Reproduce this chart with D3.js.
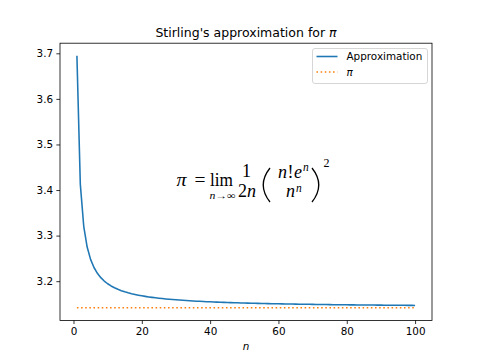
<!DOCTYPE html>
<html><head><meta charset="utf-8">
<script src="https://cdn.jsdelivr.net/npm/d3@7"></script>
<style>body{margin:0;background:#fff;} svg{display:block;}</style>
</head><body>
<script>
const nValues = d3.range(1, 101);
const approxValues = [
3.69453,3.41238,3.32040,3.27497,3.24793,3.23000,3.21724,3.20769,3.20028,3.19437,
3.18955,3.18553,3.18213,3.17922,3.17669,3.17449,3.17254,3.17082,3.16927,3.16788,
3.16663,3.16548,3.16444,3.16349,3.16261,3.16180,3.16105,3.16035,3.15970,3.15909,
3.15853,3.15800,3.15750,3.15703,3.15659,3.15617,3.15578,3.15540,3.15505,3.15471,
3.15439,3.15408,3.15379,3.15352,3.15325,3.15300,3.15275,3.15252,3.15230,3.15208,
3.15188,3.15168,3.15149,3.15130,3.15113,3.15096,3.15079,3.15063,3.15048,3.15033,
3.15019,3.15005,3.14991,3.14978,3.14966,3.14954,3.14942,3.14930,3.14919,3.14908,
3.14898,3.14887,3.14877,3.14868,3.14858,3.14849,3.14840,3.14831,3.14823,3.14815,
3.14806,3.14798,3.14791,3.14783,3.14776,3.14769,3.14762,3.14755,3.14748,3.14742,
3.14735,3.14729,3.14723,3.14717,3.14711,3.14705,3.14700,3.14694,3.14689,3.14683];
const piValue = 3.141593;
const piValues = nValues.map(() => piValue);
const xTicks = [0, 20, 40, 60, 80, 100];
const yTicks = [3.2, 3.3, 3.4, 3.5, 3.6, 3.7];
const seriesNames = ["Approximation", "π"];

const W = 480, H = 360;
const m = {l: 60, r: 432, t: 43.2, b: 320.4};
const svg = d3.select("body").append("svg").attr("width", W).attr("height", H);
const FONT = "DejaVu Sans, sans-serif";

const xMin = 1, xMax = 100, xPad = (xMax - xMin) * 0.05;
const yMin = d3.min(piValues.concat(approxValues)), yMax = d3.max(approxValues);
const yPad = (yMax - yMin) * 0.05;
const x = d3.scaleLinear().domain([xMin - xPad, xMax + xPad]).range([m.l, m.r]);
const y = d3.scaleLinear().domain([yMin - yPad, yMax + yPad]).range([m.b, m.t]);

// axes
const xAxis = svg.append("g").attr("transform", `translate(0,${m.b})`)
  .call(d3.axisBottom(x).tickValues(xTicks).tickSize(3.65).tickPadding(3.3).tickFormat(d3.format("d")));
const yAxis = svg.append("g").attr("transform", `translate(${m.l},0)`)
  .call(d3.axisLeft(y).tickValues(yTicks).tickSize(3.65).tickPadding(3.3).tickFormat(d3.format(".1f")));
[xAxis, yAxis].forEach(a => {
  a.select(".domain").remove();
  a.selectAll("line").attr("stroke", "#000").attr("stroke-width", 0.8);
  a.selectAll("text").attr("font-family", FONT).attr("font-size", 10.4).attr("fill", "#000");
});

// lines
const line = d3.line().x((d, i) => x(nValues[i])).y(d => y(d));
svg.append("path").datum(piValues).attr("d", line).attr("fill", "none")
  .attr("stroke", "#ff7f0e").attr("stroke-width", 1.56).attr("stroke-dasharray", "1.56,2.58");
svg.append("path").datum(approxValues).attr("d", line).attr("fill", "none")
  .attr("stroke", "#1f77b4").attr("stroke-width", 1.56).attr("stroke-linejoin", "round");

// frame
svg.append("rect").attr("x", m.l).attr("y", m.t).attr("width", m.r - m.l).attr("height", m.b - m.t)
  .attr("fill", "none").attr("stroke", "#000").attr("stroke-width", 0.8);

// title
const title = svg.append("text").attr("x", (m.l + m.r) / 2).attr("y", 37).attr("text-anchor", "middle")
  .attr("font-family", FONT).attr("font-size", 12.5).attr("fill", "#000");
title.append("tspan").text("Stirling's approximation for ");
title.append("tspan").attr("font-style", "italic").text("π");

// x label
svg.append("text").attr("x", (m.l + m.r) / 2).attr("y", 350).attr("text-anchor", "middle")
  .attr("font-family", FONT).attr("font-size", 10.4).attr("font-style", "italic").text("n");

// legend
const lg = svg.append("g");
lg.append("rect").attr("x", 312.5).attr("y", 48.5).attr("width", 115).attr("height", 35).attr("rx", 2.5)
  .attr("fill", "#fff").attr("fill-opacity", 0.8).attr("stroke", "#ccc").attr("stroke-width", 0.8);
const legColors = ["#1f77b4", "#ff7f0e"];
seriesNames.forEach((name, i) => {
  const yy = 56.5 + i * 15.5;
  lg.append("line").attr("x1", 316.5).attr("x2", 337.5).attr("y1", yy).attr("y2", yy)
    .attr("stroke", legColors[i]).attr("stroke-width", 1.56)
    .attr("stroke-dasharray", i === 1 ? "1.56,2.58" : null);
  lg.append("text").attr("x", 346.5).attr("y", yy + 3.8).attr("font-family", FONT).attr("font-size", 10.4)
    .attr("font-style", i === 1 ? "italic" : "normal").text(name);
});

// formula annotation
const SERIF = "Liberation Serif, DejaVu Serif, serif";
const f = svg.append("g").attr("font-family", SERIF).attr("fill", "#000");
function t(xx, yy, s, size, italic, anchor, len) {
  const e = f.append("text").attr("x", xx).attr("y", yy).attr("font-size", size)
    .attr("font-style", italic ? "italic" : "normal").attr("text-anchor", anchor || "start").text(s);
  if (len) e.attr("textLength", len).attr("lengthAdjust", "spacingAndGlyphs");
  return e;
}
t(176.5, 186, "π", 18, true, "start", 10);
t(194.5, 186, "=", 18, false, "start", 11);
t(221.5, 186, "lim", 18, false, "middle", 23);
t(222.5, 198.5, "n→∞", 10, true, "middle", 26);
t(246.5, 177, "1", 18, false, "middle");
t(247, 196.5, "2", 18, false, "end");
t(247, 196.5, "n", 18, true, "start");
// parentheses as thin curves
f.append("path").attr("d", "M270,168 Q256.5,185 270,202").attr("fill", "none").attr("stroke", "#000").attr("stroke-width", 1.3);
f.append("path").attr("d", "M312,168 Q325.5,185 312,202").attr("fill", "none").attr("stroke", "#000").attr("stroke-width", 1.3);
// numerator n! e^n
t(278, 177.5, "n", 18, true);
t(287.5, 177.5, "!", 18, false);
t(294, 177.5, "e", 18, true);
t(303, 170.5, "n", 11.5, true);
// denominator n^n
t(286, 197, "n", 18, true);
t(296, 191.5, "n", 11.5, true);
t(323.5, 167, "2", 12, false);
</script>
</body></html>
